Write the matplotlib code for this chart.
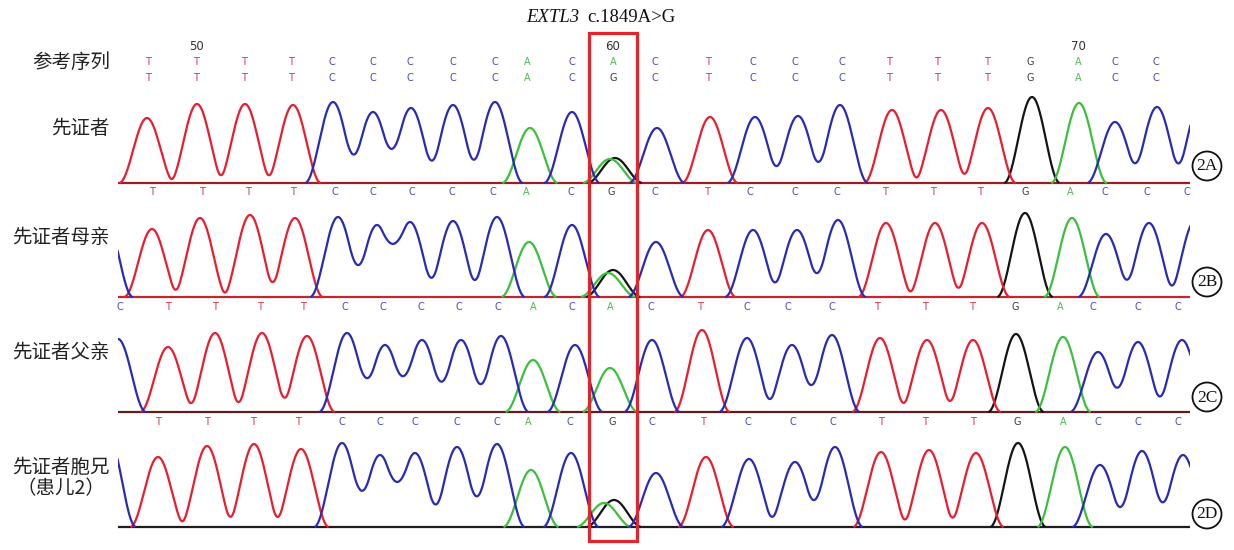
import numpy as np
import matplotlib
matplotlib.use("Agg")
import matplotlib.pyplot as plt
from matplotlib.patches import Rectangle, Circle
from matplotlib.transforms import blended_transform_factory

plt.rcParams['font.family'] = ['Noto Sans CJK SC', 'DejaVu Sans']

# ---------------- data ----------------
title_gene = "EXTL3"
title_variant = "c.1849A>G"
ref_label = "参考序列"
track_labels = ["先证者", "先证者母亲", "先证者父亲", "先证者胞兄\n（患儿2）"]
panel_tags = ["2A", "2B", "2C", "2D"]

# header rows: reference sequence and proband base calls (scan positions)
ref_call_pos = [148, 196, 244, 291, 332, 373, 410, 453, 495, 527, 572, 613,
                655, 708, 753, 795, 842, 889, 937, 987, 1030, 1078, 1115, 1156]
ref_bases = "TTTTCCCCCACACTCCCTTTGACC"
numbering_labels = ["50", "60", "70"]
numbering_index = [1, 11, 21]
variant_index = 11

# per-track base calls (shown above each trace)
A_call_pos = ref_call_pos
A_call_bases = "TTTTCCCCCACGCTCCCTTTGACC"
B_call_pos = [152, 202, 248, 293, 335, 373, 412, 452, 493, 526, 571, 611, 655,
              707, 750, 795, 837, 885, 933, 980, 1025, 1070, 1105, 1147, 1187]
B_call_bases = "TTTTCCCCCACGCTCCCTTTGACCC"
C_call_pos = [120, 168, 215, 260, 303, 345, 383, 421, 459, 498, 533, 572, 610,
              651, 700, 747, 788, 832, 877, 925, 972, 1015, 1060, 1093, 1138, 1178]
C_call_bases = "CTTTTCCCCCACACTCCCTTTGACCC"
D_call_pos = [158, 207, 253, 298, 342, 380, 415, 457, 497, 528, 570, 612, 652,
              703, 748, 793, 833, 881, 925, 973, 1017, 1063, 1098, 1138, 1178]
D_call_bases = "TTTTCCCCCACGCTCCCTTTGACCC"

# per-track peaks: scan position, base, signal height
A_peak_pos = [147, 197, 245, 293, 333, 373, 411, 453, 495, 530, 572, 610, 615,
              657, 710, 755, 798, 840, 892, 941, 988, 1032, 1079, 1115, 1157, 1200]
A_peak_base = "TTTTCCCCCACAGCTCCCTTTGACCC"
A_peak_h = [65, 79, 79, 78, 81, 71, 75, 78, 81, 55, 71, 24, 25,
            55, 66, 66, 67, 78, 73, 73, 75, 86, 80, 61, 76, 78]

B_peak_pos = [105, 152, 200, 250, 295, 338, 377, 410, 453, 497, 529, 572, 608, 613,
              656, 708, 753, 797, 838, 886, 935, 982, 1025, 1072, 1106, 1149, 1195]
B_peak_base = "CTTTTCCCCCACAGCTCCCTTTGACCC"
B_peak_h = [80, 68, 79, 82, 79, 80, 72, 75, 76, 80, 55, 72, 24, 27,
            55, 67, 67, 67, 77, 74, 74, 74, 84, 79, 63, 74, 76]

C_peak_pos = [118, 168, 215, 262, 307, 347, 385, 422, 461, 501, 533, 575, 610,
              652, 702, 747, 792, 832, 880, 927, 973, 1016, 1063, 1098, 1138, 1182]
C_peak_base = "CTTTTCCCCCACACTCCCTTTGACCC"
C_peak_h = [73, 65, 79, 79, 76, 79, 67, 72, 72, 76, 52, 67, 44,
            72, 82, 74, 67, 77, 74, 72, 72, 78, 75, 60, 70, 72]

D_peak_pos = [108, 158, 207, 254, 301, 342, 380, 415, 457, 497, 531, 571, 604, 614,
              656, 706, 749, 795, 835, 881, 929, 976, 1018, 1065, 1100, 1142, 1183]
D_peak_base = "CTTTTCCCCCACAGCTCCCTTTGACCC"
D_peak_h = [92, 70, 81, 83, 78, 84, 72, 74, 80, 83, 57, 74, 24, 27,
            54, 70, 68, 65, 80, 75, 77, 74, 84, 80, 62, 76, 72]

tracks = [
    (A_peak_pos, A_peak_base, A_peak_h, A_call_pos, A_call_bases),
    (B_peak_pos, B_peak_base, B_peak_h, B_call_pos, B_call_bases),
    (C_peak_pos, C_peak_base, C_peak_h, C_call_pos, C_call_bases),
    (D_peak_pos, D_peak_base, D_peak_h, D_call_pos, D_call_bases),
]

# ---------------- styles / layout ----------------
W, H = 1234, 550
trace_colors = {"A": "#3cbf3c", "C": "#2a2ab4", "G": "#141414", "T": "#e81e30"}
call_colors = {"A": "#55b855", "C": "#4747b8", "G": "#3a3a3a", "T": "#d93048"}
baseline_colors = ["#9a1e24", "#c3262c", "#5e1c1c", "#1e1e1e"]
baselines_px = [183, 297, 412, 527]
call_rows_px = [78, 192, 307, 422]
ref_row_px = 62
label_y_px = [128, 237, 352, 478]
tag_y_px = [166, 282, 397, 514]
x_left, x_right = 118, 1190
half_width = 28.0   # peak shape (raised-cosine) half width in scan units


def peak_shape(d):
    inside = np.abs(d) < half_width
    return np.where(inside, np.cos(np.pi * d / (2 * half_width)) ** 2, 0.0)


fig = plt.figure(figsize=(W / 100, H / 100), dpi=100)
fig.patch.set_facecolor("white")

over = fig.add_axes([0, 0, 1, 1])
over.set_xlim(0, W)
over.set_ylim(H, 0)
over.axis("off")
over.set_zorder(5)

xs = np.linspace(x_left - 5, x_right + 5, 3000)
track_axes = []
for i, (ppos, pbase, ph, cpos, cbases) in enumerate(tracks):
    base = baselines_px[i]
    ax = fig.add_axes([x_left / W, (H - base - 5) / H,
                       (x_right - x_left) / W, 105 / H])
    ax.set_xlim(x_left, x_right)
    ax.set_ylim(-5, 100)
    ax.axis("off")
    track_axes.append(ax)
    ax.axhline(0, color=baseline_colors[i], lw=1.6, zorder=1)
    for b in "GATC":
        y = np.zeros_like(xs)
        for p, bb, h in zip(ppos, pbase, ph):
            if bb == b:
                y += h * peak_shape(xs - p)
        y = np.where(y < 0.3, np.nan, y)
        ax.plot(xs, y, color=trace_colors[b], lw=1.6, zorder=2,
                solid_joinstyle="round")
    # base calls above trace
    tr = blended_transform_factory(ax.transData, over.transData)
    for p, b in zip(cpos, cbases):
        over.text(p, call_rows_px[i], b, transform=tr, ha="center", va="center",
                  fontsize=7, color=call_colors[b], family="DejaVu Sans")

# reference row and numbering
trA = blended_transform_factory(track_axes[0].transData, over.transData)
for p, b in zip(ref_call_pos, ref_bases):
    over.text(p, ref_row_px, b, transform=trA, ha="center", va="center",
              fontsize=7, color=call_colors[b], family="DejaVu Sans")
for lab, idx in zip(numbering_labels, numbering_index):
    over.text(ref_call_pos[idx], 47, lab, transform=trA, ha="center", va="center",
              fontsize=8.5, color="#333333", family="DejaVu Sans")

# labels
over.text(110, ref_row_px, ref_label, ha="right", va="center", fontsize=14,
          color="#222222")
for lab, y in zip(track_labels, label_y_px):
    over.text(110, y, lab, ha="right", va="center", fontsize=14,
              color="#222222", multialignment="center", linespacing=1.0)

# title
over.text(579, 18, title_gene, ha="right", va="center", fontsize=13.5,
          family="Liberation Serif", style="italic", color="#111111")
over.text(587, 18, title_variant, ha="left", va="center", fontsize=13.5,
          family="Liberation Serif", color="#111111")

# variant box
vx = ref_call_pos[variant_index]
box = Rectangle((vx - 24, 33), 48, 508, transform=trA, fill=False,
                ec="#e1252b", lw=2.3, zorder=10)
over.add_patch(box)

# panel tags
for tag, y in zip(panel_tags, tag_y_px):
    over.add_patch(Circle((1207, y), 14.5, fill=False, ec="#111111", lw=1.3))
    over.text(1207, y + 0.5, tag, ha="center", va="center", fontsize=12.5,
              family="Liberation Serif", color="#111111")

fig.savefig("out.png", dpi=100, facecolor="white")
